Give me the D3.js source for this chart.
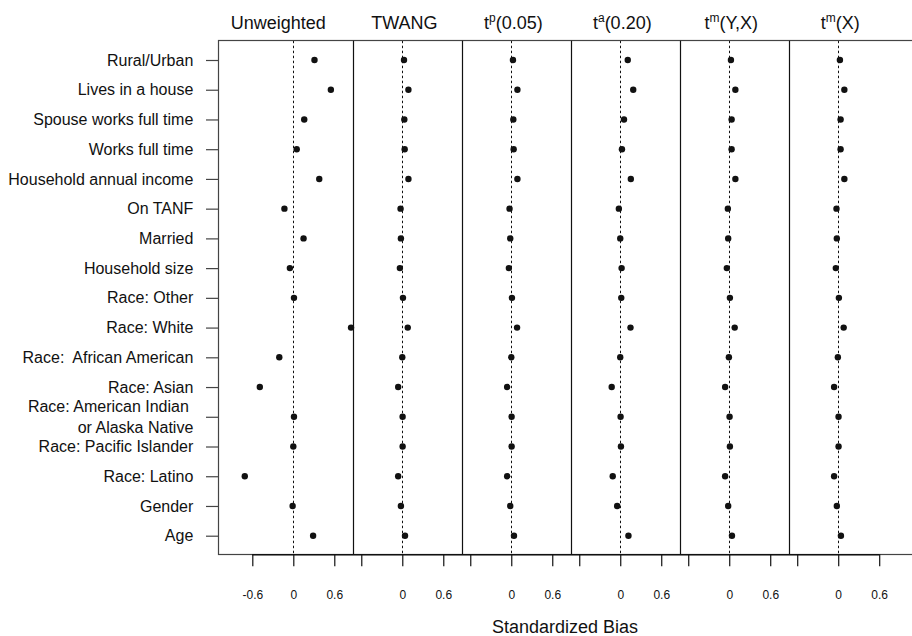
<!DOCTYPE html>
<html><head><meta charset="utf-8">
<script src="https://cdn.jsdelivr.net/npm/d3@7"></script>
<style>
body{margin:0;background:#fff}
svg{display:block}
text{font-family:"Liberation Sans",Arial,Helvetica,sans-serif;fill:#111}
</style>
</head><body>
<svg id="chart" width="912" height="636"></svg>
<script>
// ---------- data ----------
const categories = [
  "Rural/Urban",
  "Lives in a house",
  "Spouse works full time",
  "Works full time",
  "Household annual income",
  "On TANF",
  "Married",
  "Household size",
  "Race: Other",
  "Race: White",
  "Race:  African American",
  "Race: Asian",
  "Race: American Indian \nor Alaska Native",
  "Race: Pacific Islander",
  "Race: Latino",
  "Gender",
  "Age"
];
const unweighted = [0.31, 0.55, 0.16, 0.05, 0.38, -0.13, 0.15, -0.05, 0.01, 0.845, -0.205, -0.49, 0.01, 0.0, -0.71, -0.01, 0.29];
const twang      = [0.025, 0.09, 0.03, 0.035, 0.09, -0.025, -0.02, -0.035, 0.01, 0.08, 0.0, -0.06, 0.005, 0.005, -0.06, -0.02, 0.04];
const tp005      = [0.025, 0.09, 0.03, 0.035, 0.09, -0.025, -0.015, -0.035, 0.01, 0.085, 0.0, -0.06, 0.005, 0.005, -0.06, -0.015, 0.04];
const ta020      = [0.11, 0.19, 0.055, 0.025, 0.155, -0.02, 0.0, 0.02, 0.015, 0.15, 0.0, -0.125, 0.005, 0.01, -0.11, -0.045, 0.12];
const tmYX       = [0.025, 0.09, 0.035, 0.035, 0.09, -0.02, -0.015, -0.035, 0.01, 0.08, -0.005, -0.06, 0.005, 0.01, -0.06, -0.015, 0.04];
const tmX        = [0.025, 0.09, 0.035, 0.035, 0.09, -0.025, -0.02, -0.035, 0.01, 0.08, -0.005, -0.06, 0.005, 0.005, -0.06, -0.02, 0.04];
const series = [unweighted, twang, tp005, ta020, tmYX, tmX];

const headerMain = ["Unweighted", "TWANG", "t", "t", "t", "t"];
const headerSup  = ["", "", "p", "a", "m", "m"];
const headerTail = ["", "", "(0.05)", "(0.20)", "(Y,X)", "(X)"];

const tickValues = [-0.6, 0, 0.6];
const tickLabels = [
  ["-0.6", "0", "0.6"],
  ["", "0", "0.6"],
  ["", "0", "0.6"],
  ["", "0", "0.6"],
  ["", "0", "0.6"],
  ["", "0", "0.6"]
];
const xTitle = "Standardized Bias";

// ---------- layout ----------
const W = 912, H = 636;
const frame = {left: 218, top: 40.7, right: 913, bottom: 554.3};
const panelShift = 1.595;      // data units between panel origins
const dividerAt = 0.874;       // panel right edge relative to its zero
const headerShift = [-0.22, 0.03, 0.03, 0.03, 0.03, 0.03];

const svg = d3.select("#chart");

const x = d3.scaleLinear().domain([-1.102, 9.055]).range([218, 912]);
const y = d3.scalePoint().domain(categories).range([60, 535.7]).padding(0);

// dotted zero lines
series.forEach((s, k) => {
  const zx = Math.round(x(k * panelShift)) + 0.5;
  svg.append("line")
    .attr("x1", zx).attr("x2", zx)
    .attr("y1", frame.top).attr("y2", frame.bottom)
    .attr("stroke", "#111").attr("stroke-width", 1)
    .attr("stroke-dasharray", "2.5,2.5");
});

// frame box
svg.append("rect")
  .attr("x", frame.left + 0.5).attr("y", 40.5)
  .attr("width", frame.right - frame.left).attr("height", 514)
  .attr("fill", "none").attr("stroke", "#444").attr("stroke-width", 1.2);

// panel dividers
for (let k = 0; k < 5; k++) {
  const dx = Math.round(x(dividerAt + k * panelShift)) + 0.5;
  svg.append("line")
    .attr("x1", dx).attr("x2", dx)
    .attr("y1", frame.top).attr("y2", frame.bottom)
    .attr("stroke", "#111").attr("stroke-width", 1.2);
}

// dots
series.forEach((s, k) => {
  svg.append("g").selectAll("circle")
    .data(s)
    .join("circle")
    .attr("cx", d => x(d + k * panelShift))
    .attr("cy", (d, i) => y(categories[i]))
    .attr("r", 3.2)
    .attr("fill", "#111");
});

// bottom axes
series.forEach((s, k) => {
  const vals = tickValues.map(v => v + k * panelShift);
  const ax = d3.axisBottom(x)
    .tickValues(vals)
    .tickSize(12)
    .tickPadding(24)
    .tickFormat((d, i) => tickLabels[k][i]);
  const g = svg.append("g")
    .attr("transform", `translate(0,${frame.bottom})`)
    .call(ax);
  g.select(".domain").remove();
  g.selectAll(".tick line").attr("stroke", "#111").attr("stroke-width", 1.2);
  g.selectAll(".tick text").attr("font-size", 12).attr("fill", "#111")
    .attr("font-family", "Liberation Sans, Arial, sans-serif");
});
svg.append("line")
  .attr("x1", x(tickValues[0])).attr("x2", x(tickValues[2] + 5 * panelShift))
  .attr("y1", frame.bottom + 0.5).attr("y2", frame.bottom + 0.5)
  .attr("stroke", "#111").attr("stroke-width", 1.6);

// left axis
const yAx = d3.axisLeft(y).tickSize(12).tickPadding(12.7);
const gy = svg.append("g").attr("transform", `translate(${frame.left},0)`).call(yAx);
gy.select(".domain").remove();
gy.selectAll(".tick line").attr("stroke", "#444").attr("stroke-width", 1.2);
gy.selectAll(".tick text")
  .attr("font-size", 16).attr("fill", "#111")
  .attr("font-family", "Liberation Sans, Arial, sans-serif")
  .style("white-space", "pre")
  .each(function(d) {
    const lines = d.split("\n");
    if (lines.length > 1) {
      const t = d3.select(this);
      const xx = t.attr("x");
      t.text(null);
      t.append("tspan").attr("x", xx).attr("dy", "-0.35em").text(lines[0]);
      t.append("tspan").attr("x", xx).attr("dy", "1.34em").text(lines[1]);
    }
  });

// headers
headerMain.forEach((h, k) => {
  const cx = x(k * panelShift + headerShift[k]);
  const t = svg.append("text")
    .attr("x", cx).attr("y", 29)
    .attr("text-anchor", "middle")
    .attr("font-size", 18)
    .style("white-space", "pre");
  t.append("tspan").text(h);
  if (headerSup[k]) {
    t.append("tspan").attr("font-size", 12).attr("dy", -7).text(headerSup[k]);
    t.append("tspan").attr("dy", 7).text(headerTail[k]);
  }
});

// x title
svg.append("text")
  .attr("x", (frame.left + W) / 2).attr("y", 633)
  .attr("text-anchor", "middle")
  .attr("font-size", 18)
  .text(xTitle);
</script>
</body></html>
